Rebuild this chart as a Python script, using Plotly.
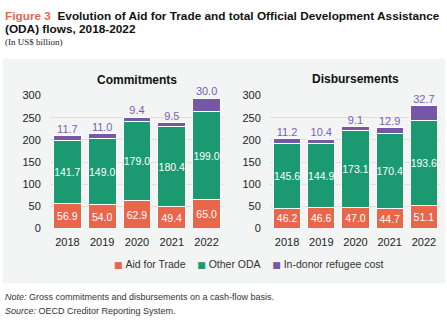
import plotly.graph_objects as go
from plotly.subplots import make_subplots

years = ["2018", "2019", "2020", "2021", "2022"]
commit_aft = [56.9, 54.0, 62.9, 49.4, 65.0]
commit_oda = [141.7, 149.0, 179.0, 180.4, 199.0]
commit_ref = [11.7, 11.0, 9.4, 9.5, 30.0]
disb_aft = [46.2, 46.6, 47.0, 44.7, 51.1]
disb_oda = [145.6, 144.9, 173.1, 170.4, 193.6]
disb_ref = [11.2, 10.4, 9.1, 12.9, 32.7]
series_names = ["Aid for Trade", "Other ODA", "In-donor refugee cost"]
yticks = [0, 50, 100, 150, 200, 250, 300]

C_AFT = "#e8674b"
C_ODA = "#1b9a72"
C_REF = "#7557a6"
C_REF_TXT = "#7a5fb3"
W, H = 447, 325
FONT = "Liberation Sans"

fig = make_subplots(rows=1, cols=2)

panels = [(commit_aft, commit_oda, commit_ref, 1), (disb_aft, disb_oda, disb_ref, 2)]
for aft, oda, ref, col in panels:
    for vals, color, name, inside in [(aft, C_AFT, series_names[0], True),
                                      (oda, C_ODA, series_names[1], True),
                                      (ref, C_REF, series_names[2], False)]:
        kw = {}
        if inside:
            kw = dict(text=[f"{v:.1f}" for v in vals], textposition="inside",
                      insidetextanchor="middle", textangle=0, constraintext="none",
                      textfont=dict(color="white", size=10.5, family=FONT))
        fig.add_trace(go.Bar(
            x=years, y=vals, name=name, marker=dict(color=color, line=dict(color="white", width=1)),
            showlegend=False, hoverinfo="skip", **kw,
        ), row=1, col=col)
    totals = [a + b + c for a, b, c in zip(aft, oda, ref)]
    fig.add_trace(go.Scatter(
        x=years, y=totals, mode="text", text=[f"{r:.1f}" for r in ref],
        textposition="top center", textfont=dict(color=C_REF_TXT, size=11, family=FONT),
        showlegend=False, hoverinfo="skip", cliponaxis=False,
    ), row=1, col=col)

y0 = (H - 231) / H
y1 = (H - 93) / H
fig.update_layout(
    width=W, height=H, barmode="stack", bargap=0.2,
    margin=dict(l=0, r=0, t=0, b=0),
    paper_bgcolor="white", plot_bgcolor="rgba(0,0,0,0)",
    font=dict(family=FONT, size=11, color="#222"),
    showlegend=False,
    shapes=[dict(type="rect", xref="paper", yref="paper", x0=3 / W, x1=445 / W,
                 y0=(H - 288) / H, y1=(H - 55) / H, fillcolor="#f2f5f4", line=dict(width=0), layer="below")],
)
fig.update_xaxes(type="category", range=[-0.5, len(years) - 0.5], showgrid=False, showline=False,
                 ticks="outside", ticklen=3, tickcolor="rgba(0,0,0,0)",
                 tickfont=dict(size=11, color="#222", family=FONT))
fig.update_yaxes(range=[0, 300], tickvals=yticks, showgrid=True, gridcolor="#e6dbd3",
                 zeroline=False, showline=False, ticks="outside", ticklen=6, tickcolor="rgba(0,0,0,0)",
                 tickfont=dict(size=11, color="#222", family=FONT), domain=[y0, y1])
fig.update_xaxes(domain=[50 / W, 224 / W], row=1, col=1)
fig.update_xaxes(domain=[270 / W, 441 / W], row=1, col=2)

anns = [
    dict(x=137 / W, y=(H - 77) / H, text="<b>Commitments</b>"),
    dict(x=355 / W, y=(H - 76) / H, text="<b>Disbursements</b>"),
]
for a in anns:
    fig.add_annotation(xref="paper", yref="paper", showarrow=False, xanchor="center", yanchor="middle",
                       font=dict(size=12, color="#111", family=FONT), **a)

# legend row
sw = "<span style='color:{c};font-family:DejaVu Sans;font-size:9px'>■</span>"
leg_text = "&nbsp;&nbsp;&nbsp;&nbsp;".join(
    sw.format(c=c) + "&nbsp;" + n for c, n in zip([C_AFT, C_ODA, C_REF], series_names))
fig.add_annotation(xref="paper", yref="paper", x=249 / W, y=(H - 268) / H, xanchor="center", yanchor="middle",
                   showarrow=False, text=leg_text, font=dict(size=10.5, color="#333", family=FONT))

fig.add_annotation(xref="paper", yref="paper", x=3 / W, y=(H - 10) / H, xanchor="left", yanchor="middle",
                   showarrow=False, align="left",
                   text="<span style='color:#e8674b'><b>Figure 3</b></span>  <b>Evolution of Aid for Trade and total Official Development Assistance</b>",
                   font=dict(size=11.8, color="#111", family=FONT))
fig.add_annotation(xref="paper", yref="paper", x=3 / W, y=(H - 24) / H, xanchor="left", yanchor="middle",
                   showarrow=False, text="<b>(ODA) flows, 2018-2022</b>",
                   font=dict(size=11.8, color="#111", family=FONT))
fig.add_annotation(xref="paper", yref="paper", x=3 / W, y=(H - 37) / H, xanchor="left", yanchor="middle",
                   showarrow=False, text="(In US$ billion)", font=dict(size=9, color="#222", family="Liberation Serif"))
fig.add_annotation(xref="paper", yref="paper", x=3 / W, y=(H - 302) / H, xanchor="left", yanchor="middle",
                   showarrow=False, text="<i>Note:</i> Gross commitments and disbursements on a cash-flow basis.",
                   font=dict(size=9, color="#333", family=FONT))
fig.add_annotation(xref="paper", yref="paper", x=3 / W, y=(H - 317) / H, xanchor="left", yanchor="middle",
                   showarrow=False, text="<i>Source:</i> OECD Creditor Reporting System.",
                   font=dict(size=9, color="#333", family=FONT))

fig.write_html("out.html")
